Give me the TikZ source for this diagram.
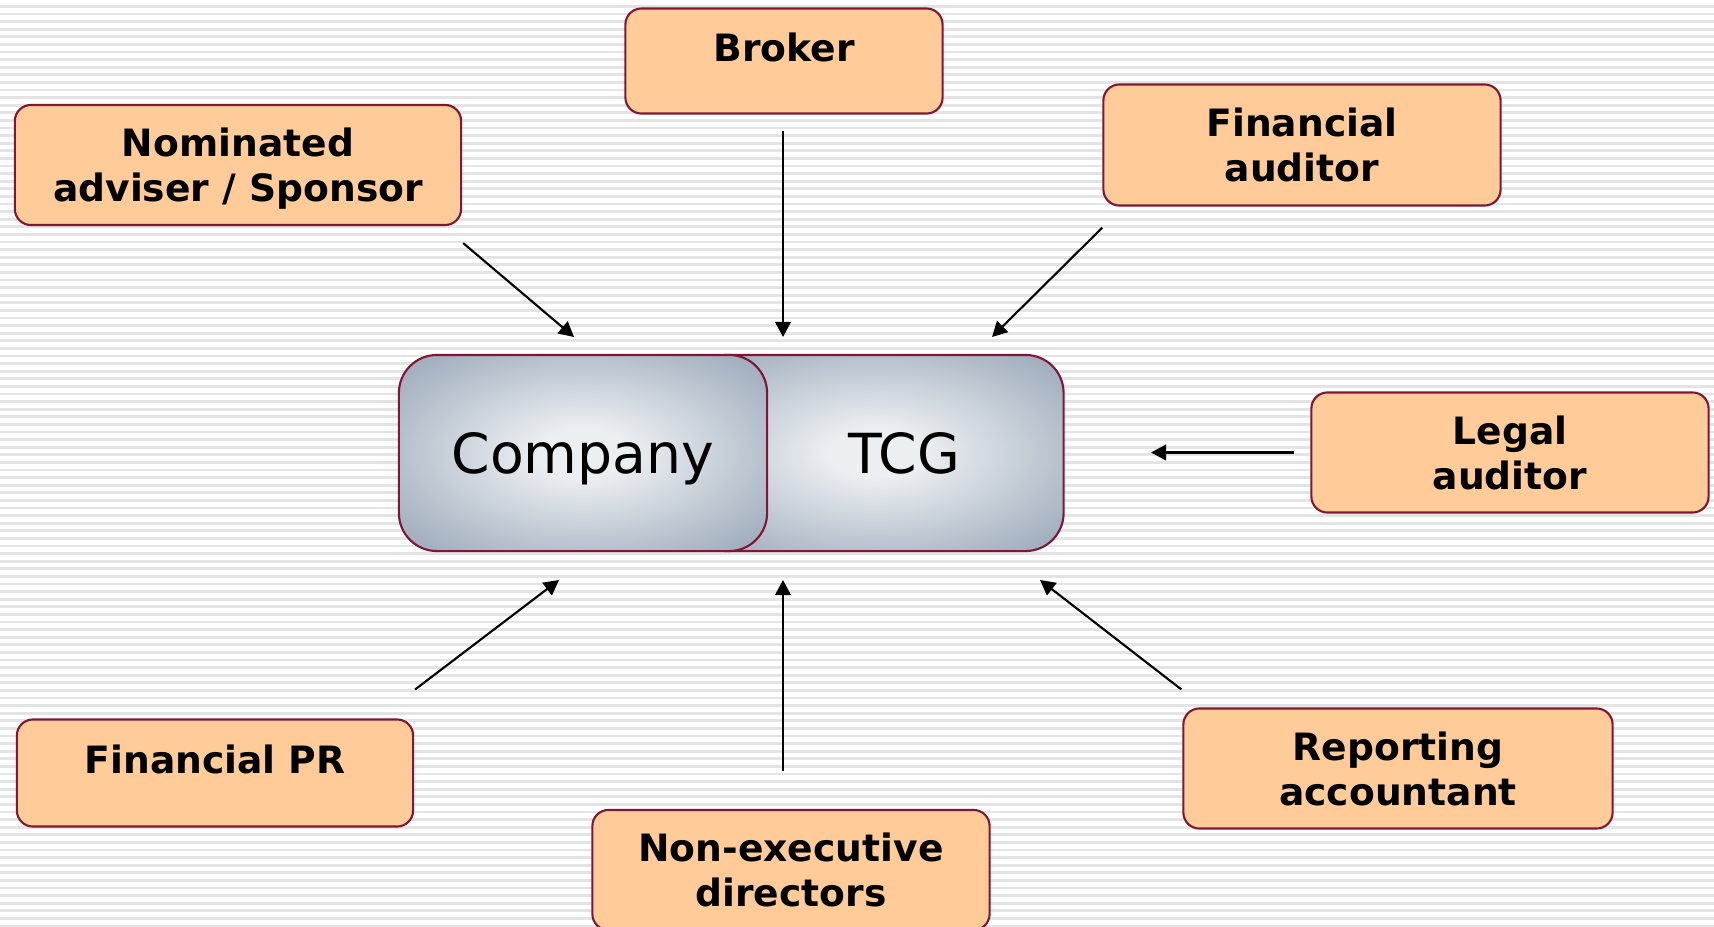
\documentclass[tikz,border=0pt]{standalone}
\usepackage{fontspec}
\setmainfont{DejaVu Sans}
\usetikzlibrary{arrows.meta,positioning,shapes,backgrounds}

\definecolor{partyfill}{HTML}{FFCC99}
\definecolor{partyline}{HTML}{7F1734}
\definecolor{hublight}{HTML}{ECEFF2}
\definecolor{hubdark}{HTML}{A2AFBE}
\definecolor{stripegray}{HTML}{E4E4E4}
\pgfdeclareradialshading{hubshade}{\pgfpoint{0bp}{0bp}}{color(0bp)=(hublight); color(6bp)=(hublight); color(32bp)=(hubdark); color(50bp)=(hubdark)}

\begin{document}
\begin{tikzpicture}[x=0.01cm, y=-0.01cm]

		\tikzstyle{party}=[rectangle, rounded corners=0.16cm, line width=0.6pt, draw=partyline, fill=partyfill, text=black, inner sep=0pt, align=center, font=\fontsize{10.7}{12.8}\selectfont\bfseries]
		\tikzstyle{oneline}=[text depth=0.28cm]
		\tikzstyle{twoline}=[text depth=0pt]
		\tikzstyle{hub}=[rectangle, rounded corners=0.38cm, line width=0.6pt, draw=partyline, shading=hubshade, inner sep=0pt, minimum height=1.96cm, text depth=0pt, font=\fontsize{15.7}{19}\selectfont]
		\tikzstyle{hubtext}=[inner sep=0pt, font=\fontsize{15.7}{19}\selectfont]
		\tikzstyle{link}=[-{Triangle[length=0.15cm, width=0.155cm]}, line width=0.6pt, black]
		\tikzstyle{stripe}=[stripegray, line width=0.027cm]

		\useasboundingbox (0,0) rectangle (1714,927);
		\fill[white] (0,0) rectangle (1714,927);

		% striped background
		\foreach \k in {0,...,121}
			\draw[stripe] (0,6.4+7.6*\k) -- (1714,6.4+7.6*\k);

		% Company and TCG
		\node[hub, minimum width=3.75cm] (tcg) at (876,453) {};
		\node[hubtext] (tcgtext) at (904,453) {TCG};
		\node[hub, minimum width=3.68cm] (company) at (583,453) {Company};

		% Advisers round the company
		\node[party, oneline, minimum width=3.17cm, minimum height=1.05cm] (broker) at (784,61) {Broker};
		\node[party, twoline, minimum width=4.46cm, minimum height=1.20cm] (nom) at (238,165) {Nominated\\adviser / Sponsor};
		\node[party, twoline, minimum width=3.97cm, minimum height=1.21cm] (finaud) at (1302,145) {Financial\\auditor};
		\node[party, twoline, minimum width=3.97cm, minimum height=1.20cm] (legal) at (1510,452.5) {Legal\\auditor};
		\node[party, oneline, minimum width=3.96cm, minimum height=1.07cm] (finpr) at (215,773) {Financial PR};
		\node[party, twoline, minimum width=4.29cm, minimum height=1.20cm] (report) at (1398,768.5) {Reporting\\accountant};
		\node[party, twoline, minimum width=3.97cm, minimum height=1.20cm] (nonexec) at (791,870) {Non-executive\\directors};

		% Arrow tips
		\coordinate (nomTip) at (574,337);
		\coordinate (brokerTip) at (783,337);
		\coordinate (finaudTip) at (992,337);
		\coordinate (legalTip) at (1151,452.5);
		\coordinate (reportTip) at (1040,580);
		\coordinate (nonexecTip) at (783,580);
		\coordinate (finprTip) at (559,580);

		\draw[link] ([shift={(1,17)}]nom.south east) -- (nomTip);
		\draw[link] ([shift={(-1,16)}]broker.south) -- (brokerTip);
		\draw[link] ([shift={(0,21)}]finaud.south west) -- (finaudTip);
		\draw[link] ([shift={(-16,0)}]legal.west) -- (legalTip);
		\draw[link] ([shift={(-1,-18)}]report.north west) -- (reportTip);
		\draw[link] ([shift={(-8,-38)}]nonexec.north) -- (nonexecTip);
		\draw[link] ([shift={(1,-29)}]finpr.north east) -- (finprTip);
\end{tikzpicture}
\end{document}
